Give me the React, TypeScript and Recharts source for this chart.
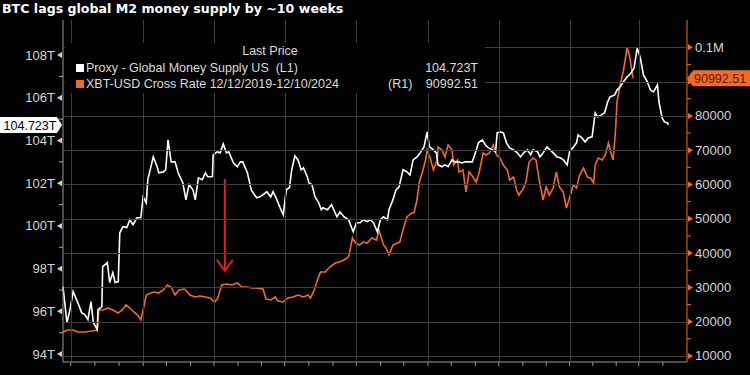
import React from "react"
import { LineChart, Line, XAxis, YAxis, ReferenceLine } from "recharts"

const TITLE = "BTC lags global M2 money supply by ~10 weeks"
const M2_NAME = "Proxy - Global Money Supply US  (L1)"
const BTC_NAME = "XBT-USD Cross Rate 12/12/2019-12/10/2024"

// x = days from the left edge of the chart (M2 is shifted ~10 weeks forward)
const m2Days = [
  0, 5, 9, 13, 19, 24, 28, 32, 36, 39, 44, 45, 50, 51, 57, 60, 64, 67, 71, 73,
  77, 82, 86, 90, 95, 100, 103, 107, 109, 116, 121, 123, 129, 132, 135, 139, 144, 148, 154, 158,
  162, 167, 170, 174, 179, 183, 186, 192, 193, 198, 202, 206, 210, 213, 219, 224, 228, 231, 237, 242,
  246, 249, 253, 257, 262, 267, 270, 275, 279, 283, 287, 291, 294, 298, 302, 306, 309, 314, 316, 320,
  324, 328, 332, 334, 340, 345, 347, 352, 356, 361, 367, 373, 377, 382, 386, 391, 395, 399, 404, 408,
  412, 417, 419, 424, 428, 432, 437, 442, 446, 450, 455, 459, 464, 468, 471, 476, 480, 482, 487, 491,
  495, 500, 504, 508, 513, 517, 521, 526, 530, 534, 539, 543, 547, 552, 556, 558, 562, 566, 570, 574,
  579, 584, 588, 592, 597, 601, 604, 610, 613, 617, 622, 626, 630, 635, 639, 643, 648, 651, 656, 660,
  662, 667, 671, 675, 680, 684, 687, 692, 696, 700, 703, 709, 712, 716, 720, 725, 730, 734, 738, 742,
  746, 751, 755, 759, 764, 766, 770, 773, 777, 778,
]
const m2Values = [
  97.16, 95.48, 96.08, 96.93, 96.41, 95.94, 95.85, 95.62, 96.46, 95.48,
  95.15, 96.08, 96.22, 98.09, 98.28, 97.35, 97.81, 97.35, 97.39, 99.68,
  99.96, 99.92, 100.29, 100.06, 100.38, 100.38, 101.36, 101.08, 102.16, 103.23,
  102.77, 102.49, 102.53, 102.63, 104.03, 103.0, 103.0, 102.49, 102.02, 101.22,
  101.93, 101.69, 101.22, 102.25, 102.16, 102.49, 102.3, 102.3, 103.33, 103.47,
  103.42, 103.84, 103.42, 103.47, 102.95, 102.77, 103.0, 103.0, 102.49, 101.69,
  101.46, 101.32, 101.36, 101.46, 101.6, 101.36, 101.6, 101.22, 100.85, 100.52,
  101.69, 101.79, 102.63, 103.28, 103.09, 102.63, 102.72, 102.3, 102.02, 101.93,
  101.36, 101.13, 100.76, 100.85, 100.76, 100.99, 100.85, 100.43, 100.66, 100.43,
  100.29, 99.73, 100.15, 100.15, 100.29, 100.2, 100.29, 100.15, 99.73, 100.29,
  100.43, 100.29, 100.76, 101.22, 101.69, 101.83, 102.63, 102.53, 102.39, 103.09,
  103.23, 103.42, 103.7, 104.4, 103.7, 103.56, 103.42, 102.86, 102.77, 102.86,
  102.77, 103.09, 103.0, 103.0, 102.95, 103.0, 103.0, 103.0, 103.42, 103.89,
  104.03, 103.79, 103.65, 103.56, 103.47, 104.36, 104.4, 104.36, 103.89, 103.65,
  103.56, 103.42, 103.23, 103.42, 103.56, 103.33, 103.56, 103.47, 103.23, 103.42,
  103.7, 103.56, 103.42, 103.23, 103.19, 103.09, 102.86, 103.47, 103.7, 103.89,
  104.26, 104.12, 103.93, 104.12, 104.17, 105.29, 105.1, 105.2, 105.29, 105.8,
  106.04, 106.13, 106.36, 106.5, 106.74, 106.97, 107.16, 107.39, 108.33, 107.86,
  107.07, 106.74, 106.36, 106.27, 106.6, 105.8, 105.06, 104.87, 104.82, 104.723,
]

const btcDays = [
  0, 6, 13, 19, 28, 37, 44, 46, 51, 58, 64, 71, 76, 81, 86, 91, 96, 100, 103, 107,
  113, 118, 123, 129, 134, 139, 144, 149, 156, 161, 163, 170, 176, 183, 189, 195, 199, 204, 211, 217,
  224, 230, 237, 243, 249, 257, 261, 267, 273, 276, 283, 289, 296, 302, 309, 315, 318, 322, 327, 331,
  337, 343, 350, 355, 361, 367, 372, 376, 381, 386, 391, 397, 403, 406, 412, 415, 419, 424, 430, 433,
  437, 442, 448, 451, 455, 458, 462, 466, 468, 472, 476, 481, 482, 487, 491, 495, 500, 502, 507, 509,
  514, 518, 522, 527, 531, 535, 540, 544, 548, 553, 557, 561, 566, 571, 574, 579, 583, 586, 592, 595,
  599, 604, 608, 612, 617, 621, 625, 630, 634, 638, 643, 647, 651, 656, 660, 664, 669, 674, 678, 682,
  684, 688, 693, 697, 701, 705, 707, 710, 712, 716, 720, 725, 728, 732, 733,
]
const btcValues = [
  17000, 17580, 17580, 17000, 17000, 17290, 17580, 23410, 23410, 23990,
  23410, 22530, 23410, 24870, 23990, 22830, 21950, 20490, 23410, 27780,
  28360, 28660, 28360, 29240, 30700, 30110, 27780, 29240, 29530, 28360,
  27780, 27200, 27490, 27200, 26910, 25740, 26910, 30700, 30990, 30700,
  31280, 30110, 30110, 29820, 29820, 29530, 26620, 26320, 27200, 26030,
  25740, 26910, 27200, 27780, 27200, 27780, 26910, 28660, 32150, 34490,
  34490, 35940, 37110, 37400, 37980, 38860, 44400, 42940, 42360, 43230,
  42940, 44400, 43810, 46730, 42360, 41480, 39440, 42360, 42940, 43230,
  46730, 50520, 51680, 51680, 55470, 60720, 63640, 67130, 70050, 67720,
  64220, 67130, 70920, 70050, 68010, 71510, 70050, 65680, 67130, 63640,
  64220, 57810, 63640, 62180, 60720, 63640, 69170, 68590, 69170, 71510,
  68590, 68010, 65680, 64220, 61300, 62180, 58390, 56930, 58970, 60720,
  66550, 67720, 67130, 61300, 55470, 59260, 56930, 58970, 63640, 59260,
  57810, 53140, 56060, 59850, 58970, 62760, 64800, 62180, 61890, 60430,
  65680, 67720, 67130, 68590, 72090, 68590, 67130, 75300, 84040, 89000,
  92790, 99780, 97740, 91910, 90992.51,
]

const lastM2 = 104.723
const lastBtc = 90992.51

const leftTicks = [94, 95, 96, 97, 98, 99, 100, 101, 102, 103, 104, 105, 106, 107, 108]
const rightTicks = [
  10000, 15000, 20000, 25000, 30000, 35000, 40000, 45000, 50000, 55000,
  60000, 65000, 70000, 75000, 80000, 85000, 90000, 95000, 100000,
]
const quarterDays = [10, 103, 194, 285, 377, 469, 560, 651, 740]
const monthDays = [
  10, 41, 72, 103, 133, 164, 194, 225, 255, 285, 316, 347, 377, 408, 438,
  469, 499, 530, 560, 591, 621, 651, 681, 711, 740, 771,
]

// red annotation arrow (left axis units)
const arrowDay = 208
const arrowFrom = 102.2
const arrowTo = 97.9

const ORANGE = "#f26b21"
const GRID = "#3e3e3e"
const FONT = '"Liberation Sans", Arial, sans-serif'
const LABEL = "#d6d6d6"

// plot box (set by the chart margin and axis sizes below)
const PLOT_LEFT = 63
const PLOT_TOP = 20
const PLOT_BOTTOM = 362

const m2Data = m2Days.map((day, i) => ({ day, m2: m2Values[i] }))
const btcData = btcDays.map((day, i) => ({ day, btc: btcValues[i] }))

const px = (v: number) => Math.round(v) + 0.5

// quarter ticks also carry the vertical grid line
function BottomTick({ x, payload }: any) {
  if (!quarterDays.includes(payload.value)) return <g />
  return <path d={`M${px(x)},${PLOT_TOP} V${PLOT_BOTTOM - 1}`} stroke={GRID} strokeWidth={1} fill="none" />
}

function LeftTick({ x, y, payload }: any) {
  const v = payload.value
  if (v === lastM2) {
    return (
      <g>
        <path d={`M0,${y - 8} H${x - 6} L${x - 1},${y} L${x - 6},${y + 8} H0 Z`} fill="#fff" />
        <text x={x - 33} y={y + 4.5} textAnchor="middle" fontSize={12.5} fill="#000" fontFamily={FONT}>
          {`${lastM2}T`}
        </text>
      </g>
    )
  }
  if (v % 2 === 0) {
    return (
      <g>
        <path d={`M${x - 6},${y} L${x - 1},${y - 3} L${x - 1},${y + 3} Z`} fill="#cfcfcf" />
        <text x={x - 8} y={y + 4.5} textAnchor="end" fontSize={13} fill={LABEL} fontFamily={FONT}>
          {`${v}T`}
        </text>
      </g>
    )
  }
  return <line x1={x - 4} x2={x} y1={y} y2={y} stroke="#aaa" />
}

// major right ticks also carry the horizontal grid line
function RightTick({ x, y, payload }: any) {
  const v = payload.value
  if (v === lastBtc) {
    return (
      <g>
        <path d={`M${x},${y} L${x + 6},${y - 8} H750 V${y + 8} H${x + 6} Z`} fill={ORANGE} />
        <text x={x + 7} y={y + 4.5} fontSize={12.5} fill="#5a1a00" fontFamily={FONT}>
          {lastBtc.toFixed(2)}
        </text>
      </g>
    )
  }
  if (v % 10000 === 0) {
    // the last-price badge sits on top of this label in the original
    const hidden = Math.abs(v - lastBtc) < 5000
    return (
      <g>
        <path d={`M${PLOT_LEFT + 1},${px(y)} H${x - 1}`} stroke={GRID} strokeWidth={1} fill="none" />
        <path d={`M${x + 6},${y} L${x + 1},${y - 3} L${x + 1},${y + 3} Z`} fill={ORANGE} />
        {!hidden && (
          <text x={x + 8} y={y + 4.5} fontSize={13} fill={LABEL} fontFamily={FONT}>
            {v === 100000 ? "0.1M" : `${v}`}
          </text>
        )}
      </g>
    )
  }
  return <line x1={x} x2={x + 4} y1={y} y2={y} stroke={ORANGE} />
}

function Arrow(props: any) {
  const { x1, y1, x2, y2 } = props
  return (
    <g>
      <line x1={x1} y1={y1} x2={x2} y2={y2 - 1} stroke="#e3201b" strokeWidth={2} />
      <polyline
        points={`${x2 - 8},${y2 - 11} ${x2},${y2} ${x2 + 8},${y2 - 11}`}
        fill="none"
        stroke="#e3201b"
        strokeWidth={2}
      />
    </g>
  )
}

export default function App() {
  return (
    <div
      style={{
        position: "relative",
        width: 750,
        height: 375,
        background: "#000",
        overflow: "hidden",
        fontFamily: FONT,
      }}
    >
      <style>{"body{margin:0;background:#000}"}</style>
      <LineChart width={750} height={375} margin={{ top: PLOT_TOP, right: 0, bottom: 0, left: 0 }}>
        <XAxis
          dataKey="day"
          type="number"
          domain={[0, 802]}
          ticks={monthDays}
          interval={0}
          height={13}
          tick={<BottomTick />}
          tickSize={4}
          tickLine={{ stroke: "#999" }}
          axisLine={{ stroke: "#999" }}
        />
        <YAxis
          yAxisId="left"
          orientation="left"
          width={PLOT_LEFT}
          domain={[93.63, 109.64]}
          ticks={[...leftTicks, lastM2]}
          interval={0}
          tickSize={0}
          tickMargin={0}
          tick={<LeftTick />}
          axisLine={{ stroke: "#999" }}
        />
        <YAxis
          yAxisId="right"
          orientation="right"
          width={63}
          domain={[8250, 107950]}
          ticks={[...rightTicks, lastBtc]}
          interval={0}
          tickSize={0}
          tickMargin={0}
          tick={<RightTick />}
          axisLine={{ stroke: ORANGE }}
        />
        <Line
          yAxisId="right"
          data={btcData}
          dataKey="btc"
          type="linear"
          stroke={ORANGE}
          strokeWidth={1.6}
          dot={false}
          isAnimationActive={false}
        />
        <Line
          yAxisId="left"
          data={m2Data}
          dataKey="m2"
          type="linear"
          stroke="#ffffff"
          strokeWidth={1.6}
          dot={false}
          isAnimationActive={false}
        />
        <ReferenceLine
          yAxisId="left"
          segment={[
            { x: arrowDay, y: arrowFrom },
            { x: arrowDay, y: arrowTo },
          ]}
          shape={<Arrow />}
        />
      </LineChart>

      <div
        style={{
          position: "absolute",
          left: 2,
          top: 0,
          color: "#fff",
          fontFamily: '"DejaVu Sans", Verdana, sans-serif',
          fontWeight: "bold",
          fontSize: 12.6,
          lineHeight: "17px",
          whiteSpace: "nowrap",
        }}
      >
        {TITLE}
      </div>

      <div
        style={{
          position: "absolute",
          left: 65,
          top: 43,
          width: 420,
          height: 50,
          background: "#000",
          color: "#dcdcdc",
          fontSize: 12.5,
          lineHeight: "16px",
          whiteSpace: "pre",
        }}
      >
        <div style={{ position: "absolute", left: 0, width: 410, top: 0, textAlign: "center" }}>Last Price</div>
        <div style={{ position: "absolute", left: 11, top: 21, width: 8, height: 8, background: "#fff" }} />
        <div style={{ position: "absolute", left: 21, top: 17 }}>{M2_NAME}</div>
        <div style={{ position: "absolute", right: 7, top: 17 }}>{`${lastM2}T`}</div>
        <div style={{ position: "absolute", left: 11, top: 37, width: 8, height: 8, background: ORANGE }} />
        <div style={{ position: "absolute", left: 21, top: 33 }}>{BTC_NAME}</div>
        <div style={{ position: "absolute", left: 323, top: 33 }}>(R1)</div>
        <div style={{ position: "absolute", right: 7, top: 33 }}>{lastBtc.toFixed(2)}</div>
      </div>
    </div>
  )
}
